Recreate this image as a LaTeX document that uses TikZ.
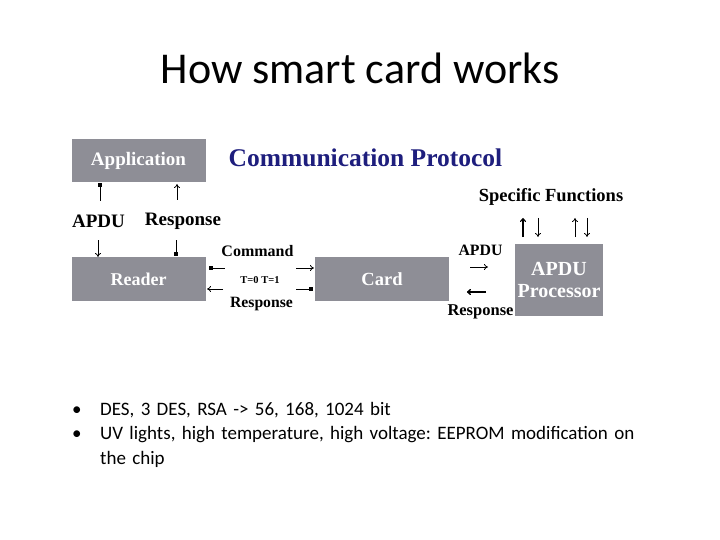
\documentclass[tikz,border=0pt]{standalone}
\usepackage{fontspec}
\setmainfont{Liberation Serif}
\newfontfamily\carlitofont{Carlito}
\usetikzlibrary{arrows.meta}
\definecolor{boxgray}{RGB}{142,142,150}
\definecolor{navy}{RGB}{30,30,125}
\newcommand{\fs}[1]{\fontsize{#1}{#1}\selectfont}
\tikzset{
  gbox/.style={fill=boxgray, draw=none, text=white, font=\bfseries\fs{18.5}, inner sep=0pt, align=center},
  lbl/.style={font=\bfseries\fs{19}, inner sep=0pt},
  arr/.style={line width=0.8pt, -{To[length=4pt,width=6pt]}},
  sq/.style={line width=0.8pt, {Square[length=4pt,width=4pt]}-},
}
\begin{document}
\begin{tikzpicture}[x=1pt,y=-1pt]
\useasboundingbox (0,0) rectangle (720,540);
\node[font=\carlitofont\fs{44}, inner sep=0pt] (title) at (360,68) {How smart card works};
% boxes
\node[gbox, minimum width=134pt, minimum height=43pt, font=\bfseries\fs{19}] (app) at (138.5,160.5) {Application};
\node[gbox, minimum width=134pt, minimum height=44pt, font=\bfseries\fs{18}] (reader) at (138.5,279) {Reader};
\node[gbox, minimum width=134pt, minimum height=44pt] (card) at (382,279) {Card};
\node[gbox, minimum width=88pt, minimum height=72pt, font=\bfseries\fontsize{20}{22}\selectfont] (proc) at (559,280) {APDU\\Processor};
% labels
\node[font=\bfseries\fs{25.5}, text=navy, inner sep=0pt] (cp) at (365.5,158) {Communication Protocol};
\node[lbl, font=\bfseries\fs{18.5}] (sf) at (551,197) {Specific Functions};
\node[lbl] (lapdu) at (98.5,221) {APDU};
\node[lbl] (lresp) at (183,221) {Response};
\node[lbl, font=\bfseries\fs{16}] (cmd) at (257.5,251) {Command};
\node[font=\bfseries\fs{10.5}, inner sep=0pt] (t01) at (260,280) {T=0 T=1};
\node[lbl, font=\bfseries\fs{15.7}] (rresp) at (261.5,304) {Response};
\node[lbl, font=\bfseries\fs{15.8}] (papdu) at (480.5,250) {APDU};
\node[lbl, font=\bfseries\fs{16.5}] (presp) at (480.5,312) {Response};
% coordinates
\coordinate (a1) at (100,183);  \coordinate (a2) at (100,201);
\coordinate (a3) at (98,240);   \coordinate (a4) at (98,257);
\coordinate (r1) at (177,200);  \coordinate (r2) at (177,184);
\coordinate (r3) at (176,256);  \coordinate (r4) at (176,240);
\coordinate (h1) at (209,268);  \coordinate (h2) at (225,268);
\coordinate (h3) at (296,268);  \coordinate (h4) at (314,268);
\coordinate (h5) at (223,289);  \coordinate (h6) at (207,289);
\coordinate (h7) at (313,289);  \coordinate (h8) at (296,289);
\coordinate (p1) at (470,267);  \coordinate (p2) at (488,267);
\coordinate (p3) at (486,292);  \coordinate (p4) at (467,292);
\coordinate (u1) at (523,237);  \coordinate (u2) at (523,218);
\coordinate (d1) at (538,218);  \coordinate (d2) at (538,237);
\coordinate (u3) at (575,237);  \coordinate (u4) at (575,218);
\coordinate (d3) at (587,218);  \coordinate (d4) at (587,237);
% connectors
\draw[sq] (a1) -- (a2);
\draw[arr] (a3) -- (a4);
\draw[arr] (r1) -- (r2);
\draw[sq] (r3) -- (r4);
\draw[sq] (h1) -- (h2);
\draw[arr] (h3) -- (h4);
\draw[arr] (h5) -- (h6);
\draw[sq] (h7) -- (h8);
\draw[arr] (p1) -- (p2);
\draw[arr, line width=1.4pt] (p3) -- (p4);
\draw[arr, line width=1.1pt] (u1) -- (u2);
\draw[arr] (d1) -- (d2);
\draw[arr] (u3) -- (u4);
\draw[arr] (d3) -- (d4);
% bullets
\node[font=\carlitofont\fontsize{19}{24.5}\selectfont, anchor=north west, inner sep=0pt, text width=600pt, align=left] (bl) at (72,402) {\frenchspacing%
\makebox[28pt][l]{\textbullet}DES, 3 DES, RSA -> 56, 168, 1024 bit\\
\makebox[28pt][l]{\textbullet}UV lights, high temperature, high voltage: EEPROM modification on\\
\hspace*{28pt}the chip};
\end{tikzpicture}
\end{document}
